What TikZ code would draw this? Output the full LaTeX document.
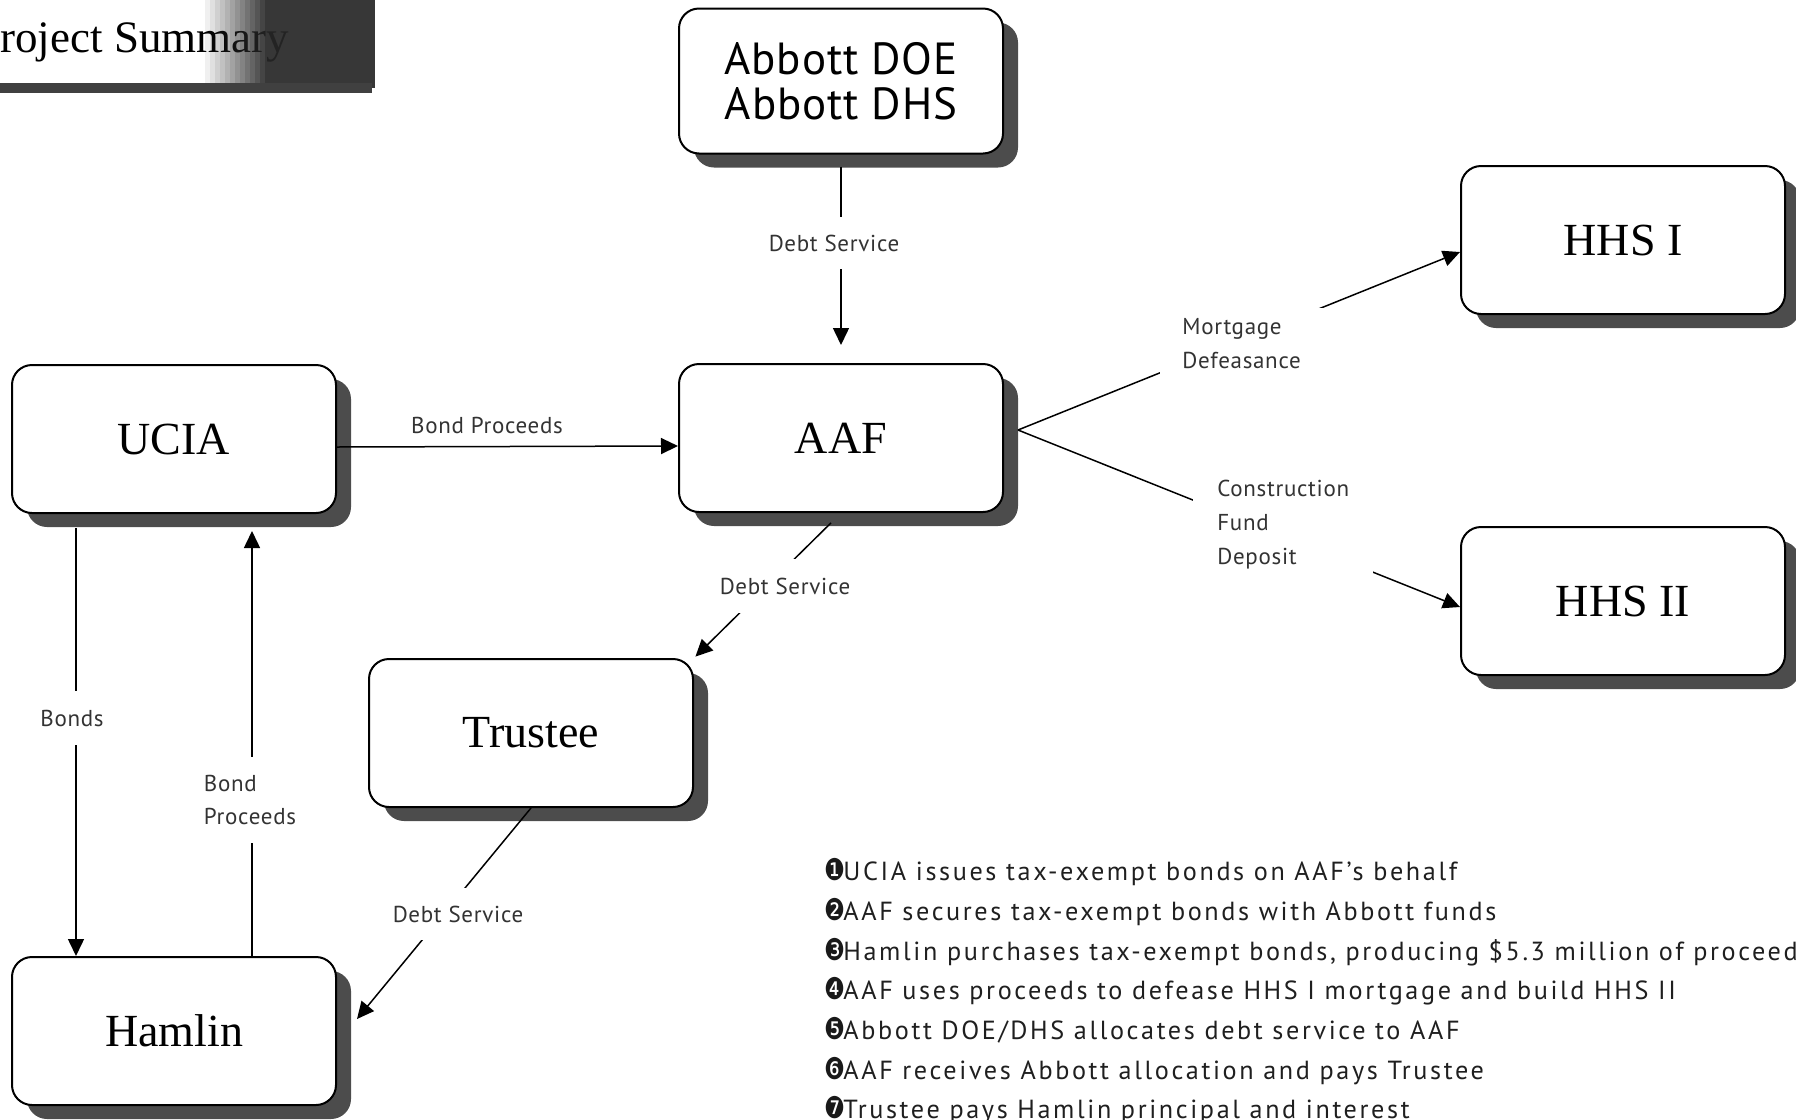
\documentclass[tikz,border=0pt]{standalone}
\usepackage{fontspec}
\setmainfont{Liberation Serif}
\newfontfamily\labfont[LetterSpace=3]{PT Sans}
\newfontfamily\abfont[LetterSpace=2]{PT Sans}
\newfontfamily\listfont[LetterSpace=10]{PT Sans}
\newfontfamily\bulfont[FakeStretch=0.78]{DejaVu Sans}
\usetikzlibrary{arrows.meta,shadows,calc}
\begin{document}
\begin{tikzpicture}[x=0.5pt,y=-0.5pt,
  box/.style={draw, line width=1pt, rounded corners=10pt, fill=white,
    minimum width=162pt, minimum height=74pt, inner sep=0pt,
    font=\fontsize{23}{26}\selectfont,
    drop shadow={shadow xshift=7.5pt, shadow yshift=-7pt, fill=black!70, opacity=1}},
  conn/.style={line width=0.75pt, -{Triangle[length=8.5pt,width=8pt]}},
  lab/.style={fill=white, font=\labfont\fontsize{11.5}{17}\selectfont, text=black!80, align=left},
  item/.style={anchor=base west, inner sep=0pt, text=black!88, font=\listfont\fontsize{13.1}{15}\selectfont},
  bul/.style={anchor=base west, inner sep=0pt, text=black!90, font=\bulfont\fontsize{15}{15}\selectfont}
]
\useasboundingbox (0,0) rectangle (1796,1120);

% title
\node[anchor=base west, inner sep=0pt, font=\fontsize{22.5}{25}\selectfont] (title) at (-25,52) {Project Summary};
\foreach \i [evaluate=\i as \op using {min(0.92,\i/14)}] in {0,...,34}
  \fill[black!85, opacity=\op] ({200+\i*5},0) rectangle ({205+\i*5},88);
\fill[black!75] (0,83) rectangle (372,93);

% boxes
\node[box, minimum height=72.5pt, align=center, font=\abfont\fontsize{22.5}{22.5}\selectfont] (abbott) at (841,81) {Abbott DOE\\Abbott DHS};
\node[box] (ucia) at (174,439) {UCIA};
\node[box] (aaf) at (841,438) {AAF};
\node[box] (hhs1) at (1623,240) {HHS I};
\node[box] (hhs2) at (1623,601) {HHS II};
\node[box] (trustee) at (531,733) {Trustee};
\node[box] (hamlin) at (174,1031) {Hamlin};

% connectors
\draw[conn, shorten <=6pt, shorten >=9pt] (abbott.south) -- (aaf.north);
\draw[conn] ([yshift=-4pt]ucia.east) -- ([yshift=-4pt]aaf.west);
\draw[conn] ([xshift=7pt,yshift=4pt]aaf.east) -- ([yshift=-6pt]hhs1.west);
\draw[conn] ([xshift=7pt,yshift=4pt]aaf.east) -- ([yshift=-3pt]hhs2.west);
\draw[conn, shorten <=7pt, shorten >=1pt] (aaf.south) -- (trustee.north east);
\draw[conn] (trustee.south) -- ([xshift=10pt,yshift=6pt]hamlin.east);
\draw[conn, shorten <=7pt] ([xshift=32.5pt]ucia.south west) -- ([xshift=32.5pt]hamlin.north west);
\draw[conn, shorten >=8.5pt] ([xshift=120.5pt]hamlin.north west) -- ([xshift=120.5pt]ucia.south west);

% labels
\node[lab, inner xsep=2pt, inner ysep=9pt] (l1) at (834,243) {Debt Service};
\node[lab, inner sep=1pt] (l2) at (487,425) {Bond Proceeds};
\node[lab, anchor=north west, inner xsep=11pt, inner ysep=5pt] (l3) at (1160,308) {Mortgage\\Defeasance};
\node[lab, anchor=north west, inner xsep=12pt, inner ysep=5pt] (l4) at (1193,470) {Construction\\Fund\\Deposit};
\node[lab, inner xsep=1pt, inner ysep=9.5pt] (l5) at (785,586) {Debt Service};
\node[lab, inner xsep=2pt, inner ysep=9pt] (l6) at (458,914) {Debt Service};
\node[lab, inner xsep=2pt, inner ysep=9.5pt] (l7) at (72,718) {Bonds};
\node[lab, inner xsep=2pt, inner ysep=9pt, font=\labfont\fontsize{11.5}{16.5}\selectfont] (l8) at (250,800) {Bond\\Proceeds};

% list
\node[bul] (b1) at (824,880) {❶};
\node[item] (t1) at (843,880) {UCIA issues tax-exempt bonds on AAF’s behalf};
\node[bul] (b2) at (824,920) {❷};
\node[item] (t2) at (843,920) {AAF secures tax-exempt bonds with Abbott funds};
\node[bul] (b3) at (824,960) {❸};
\node[item] (t3) at (843,960) {Hamlin purchases tax-exempt bonds, producing \$5.3 million of proceeds};
\node[bul] (b4) at (824,999) {❹};
\node[item] (t4) at (843,999) {AAF uses proceeds to defease HHS I mortgage and build HHS II};
\node[bul] (b5) at (824,1039) {❺};
\node[item] (t5) at (843,1039) {Abbott DOE/DHS allocates debt service to AAF};
\node[bul] (b6) at (824,1079) {❻};
\node[item] (t6) at (843,1079) {AAF receives Abbott allocation and pays Trustee};
\node[bul] (b7) at (824,1118) {❼};
\node[item] (t7) at (843,1118) {Trustee pays Hamlin principal and interest};
\end{tikzpicture}
\end{document}
